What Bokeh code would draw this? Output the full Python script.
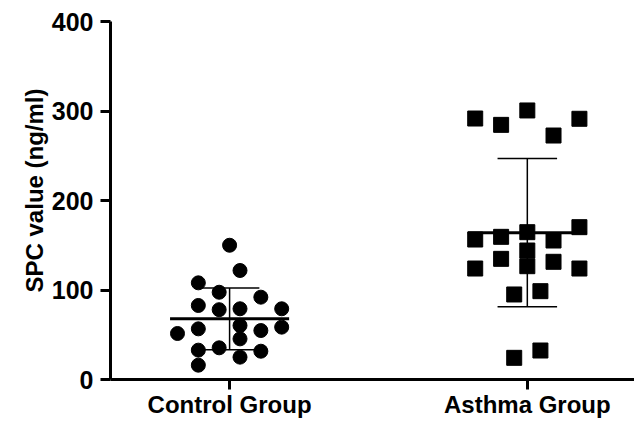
import numpy as np
from bokeh.plotting import figure
from bokeh.models import Range1d, FixedTicker, Title
from bokeh.embed import file_html
from bokeh.resources import INLINE

# ---- data ----
categories = ["Control Group", "Asthma Group"]
control_values = [150, 121.8, 108, 97.5, 92, 82.7, 78, 79, 79, 60.3,
                  58.5, 51.4, 56.6, 54.7, 45.4, 32.8, 35.4, 31.6, 25, 16]
control_jitter = [0.0, 0.035, -0.105, -0.035, 0.105, -0.105, -0.035, 0.035, 0.175, 0.035,
                  0.175, -0.175, -0.105, 0.105, 0.035, -0.105, -0.035, 0.105, 0.035, -0.105]
asthma_values = [291.6, 284.5, 300.6, 272.6, 291.3, 156.4, 159.4, 164.6, 155.3, 170.2,
                 144.1, 134.8, 131.5, 126.6, 124, 124, 95, 98.7, 24.2, 32.4]
asthma_jitter = [-0.175, -0.088, 0.0, 0.088, 0.175, -0.175, -0.088, 0.0, 0.088, 0.175,
                 0.0, -0.088, 0.088, 0.0, -0.175, 0.175, -0.044, 0.044, -0.044, 0.044]
y_ticks = [0, 100, 200, 300, 400]
y_label = "SPC value (ng/ml)"

FONT = "Liberation Sans"

p = figure(width=634, height=420, output_backend="svg", toolbar_location=None,
           x_range=Range1d(0.6, 2.36), y_range=Range1d(0, 400),
           min_border_left=110, min_border_right=0, min_border_top=21, min_border_bottom=36)
p.outline_line_color = None
p.xgrid.visible = False
p.ygrid.visible = False
p.background_fill_color = "white"
p.border_fill_color = "white"

groups = [(1, control_values, control_jitter, "circle", 14),
          (2, asthma_values, asthma_jitter, "square", 15)]

for cx, vals, jit, marker, size in groups:
    vals = np.array(vals, dtype=float)
    xs = cx + np.array(jit)
    p.scatter(xs, vals, marker=marker, size=size, fill_color="black", line_color="black")
    m = vals.mean()
    sd = vals.std(ddof=1)
    # error bar (mean ± SD)
    p.segment(x0=[cx], y0=[m - sd], x1=[cx], y1=[m + sd], line_color="black", line_width=1.5)
    p.segment(x0=[cx - 0.1, cx - 0.1], y0=[m - sd, m + sd], x1=[cx + 0.1, cx + 0.1],
              y1=[m - sd, m + sd], line_color="black", line_width=1.5)
    # mean line
    p.segment(x0=[cx - 0.2], y0=[m], x1=[cx + 0.2], y1=[m], line_color="black", line_width=3)

for ax in (p.xaxis[0], p.yaxis[0]):
    ax.axis_line_width = 3
    ax.axis_line_color = "black"
    ax.major_tick_line_width = 3
    ax.major_tick_line_color = "black"
    ax.major_tick_in = 0
    ax.major_tick_out = 10
    ax.minor_tick_line_color = None
    ax.major_label_text_font = FONT
    ax.major_label_text_font_style = "bold"
    ax.major_label_text_font_size = "25px"
    ax.major_label_text_color = "black"

p.xaxis.ticker = FixedTicker(ticks=[1, 2])
p.xaxis.major_label_overrides = {i + 1: c for i, c in enumerate(categories)}
p.xaxis.major_label_standoff = 1
p.xaxis.major_label_text_font_size = "24px"

p.yaxis.ticker = FixedTicker(ticks=y_ticks)
p.yaxis.major_label_standoff = 7

# y-axis title as a left-side title, shifted up a little like in the reference
p.add_layout(Title(text=y_label, align="left", offset=87, standoff=2,
                   text_font=FONT, text_font_style="bold", text_font_size="24px",
                   text_color="black"), "left")

open("out.html", "w").write(file_html(p, INLINE))
